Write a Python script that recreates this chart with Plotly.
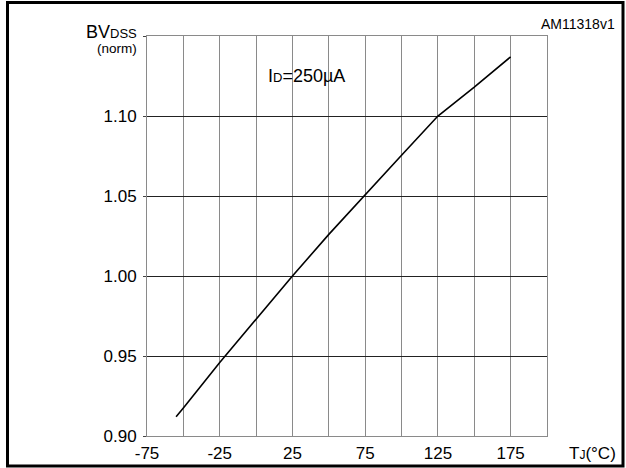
import plotly.graph_objects as go

# ---- data ----
temperature_c = [-55, -50, -25, 0, 25, 50, 75, 100, 125, 150, 175]
bvdss_norm = [0.912, 0.9175, 0.946, 0.973, 1.000, 1.026, 1.051, 1.0755, 1.100, 1.118, 1.137]

x_tick_vals = [-75, -50, -25, 0, 25, 50, 75, 100, 125, 150, 175, 200]
x_tick_text = ["-75", "", "-25", "", "25", "", "75", "", "125", "", "175", ""]
y_tick_vals = [0.90, 0.95, 1.00, 1.05, 1.10, 1.15]
y_tick_text = ["0.90", "0.95", "1.00", "1.05", "1.10", ""]

FONT = "Liberation Sans, Arial, Helvetica, sans-serif"

# plot-area geometry in pixels
W, H = 626, 468
L, R, T, B = 147, 79, 36, 32
PW, PH = W - L - R, H - T - B


def px(x):
    return (x - L) / PW


def py(y):
    return (H - B - y) / PH


fig = go.Figure()
fig.add_trace(go.Scatter(
    x=temperature_c, y=bvdss_norm, mode="lines",
    line=dict(color="black", width=1.6), showlegend=False, hoverinfo="skip",
))

fig.update_layout(
    width=W, height=H,
    margin=dict(l=L, r=R, t=T, b=B, pad=0, autoexpand=False),
    paper_bgcolor="white", plot_bgcolor="white",
    font=dict(family=FONT, size=17, color="black"),
    xaxis=dict(
        range=[-75, 200], tickmode="array", tickvals=x_tick_vals, ticktext=x_tick_text,
        showgrid=True, gridcolor="#8a8a8a", gridwidth=1,
        showline=True, linecolor="#8a8a8a", linewidth=1, mirror=True,
        ticks="", zeroline=False, ticklabelstandoff=2, automargin=False,
        tickfont=dict(size=17, family=FONT, color="black"),
    ),
    yaxis=dict(
        range=[0.90, 1.15], tickmode="array", tickvals=y_tick_vals, ticktext=y_tick_text,
        showgrid=True, gridcolor="#222222", gridwidth=1,
        showline=True, linecolor="#8a8a8a", linewidth=1, mirror=True,
        ticks="outside", ticklen=3, tickcolor="#444444", zeroline=False,
        ticklabelstandoff=3, automargin=False,
        tickfont=dict(size=17, family=FONT, color="black"),
    ),
)

# outer frame
fig.add_shape(type="rect", xref="paper", yref="paper",
              x0=px(7.5), x1=px(623), y0=py(466), y1=py(2.5),
              line=dict(color="black", width=3), fillcolor="rgba(0,0,0,0)", layer="above")

annotations = [
    dict(text="BV<span style='font-size:13px'>DSS</span>", x=px(139), y=py(32),
         xanchor="right", yanchor="middle", font=dict(size=18)),
    dict(text="(norm)", x=px(139), y=py(48.5), xanchor="right", yanchor="middle",
         font=dict(size=13.5)),
    dict(text="I<span style='font-size:13px'>D</span>=250µA", x=px(266), y=py(76.5),
         xanchor="left", yanchor="middle", font=dict(size=18)),
    dict(text="AM11318v1", x=px(617), y=py(23.5), xanchor="right", yanchor="middle",
         font=dict(size=14)),
    dict(text="T<span style='font-size:12px'>J</span>(°C)", x=px(567), y=py(453),
         xanchor="left", yanchor="middle", font=dict(size=17)),
]
for a in annotations:
    a.update(xref="paper", yref="paper", showarrow=False)
    a["font"]["family"] = FONT
    a["font"]["color"] = "black"
    fig.add_annotation(**a)

fig.write_html("out.html")
